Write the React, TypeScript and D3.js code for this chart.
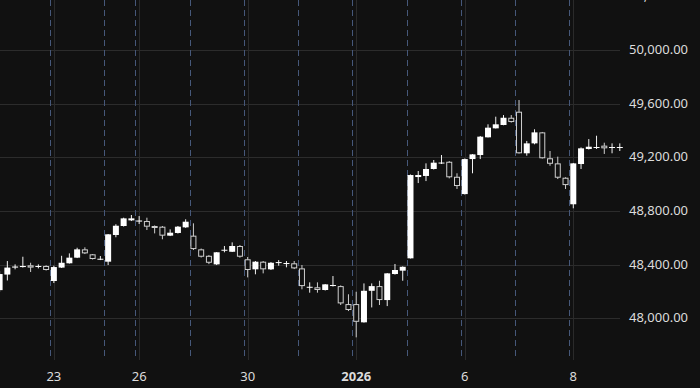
import React from "react";
import * as d3 from "d3";

// trading days shown, hourly bars per day
const days = ["22", "23", "24", "26", "29", "30", "31", "2026", "5", "6", "7", "8"];
const barsPerDay = [7, 7, 4, 7, 7, 7, 7, 7, 7, 7, 7, 7];
const labeledDays = ["23", "26", "30", "2026", "6", "8"];
const priceTicks = [48000, 48400, 48800, 49200, 49600, 50000, 50400];

const opens = [
  48210, 48326, 48378, 48382, 48395, 48386, 48390,
  48278, 48378, 48410, 48452, 48514, 48477, 48440,
  48422, 48621, 48688, 48730,
  48721, 48725, 48688, 48683, 48616, 48636, 48678,
  48616, 48514, 48466, 48402, 48507, 48496, 48539,
  48440, 48365, 48422, 48365, 48414, 48407, 48410,
  48372, 48231, 48231, 48211, 48245, 48240, 48106,
  48106, 47970, 48205, 48240, 48136, 48330, 48355,
  48447, 49053, 49061, 49113, 49154, 49167, 49055,
  48926, 49187, 49217, 49349, 49416, 49441, 49495,
  49540, 49230, 49304, 49386, 49193, 49155, 49048,
  48850, 49150, 49262, 49272, 49287, 49273, 49273,
];
const highs = [
  48352, 48427, 48402, 48459, 48414, 48402, 48395,
  48392, 48466, 48484, 48526, 48529, 48479, 48464,
  48628, 48701, 48750, 48770,
  48762, 48750, 48692, 48688, 48663, 48688, 48738,
  48708, 48520, 48471, 48494, 48539, 48566, 48546,
  48457, 48427, 48427, 48419, 48434, 48427, 48427,
  48397, 48268, 48268, 48255, 48315, 48245, 48179,
  48198, 48260, 48260, 48280, 48337, 48405, 48387,
  49072, 49098, 49155, 49180, 49217, 49172, 49081,
  49191, 49224, 49359, 49446, 49503, 49515, 49515,
  49627, 49322, 49409, 49389, 49247, 49205, 49051,
  49158, 49274, 49336, 49361, 49309, 49304, 49304,
];
const lows = [
  48196, 48282, 48365, 48378, 48345, 48372, 48356,
  48263, 48375, 48408, 48449, 48479, 48438, 48434,
  48397, 48604, 48684, 48725,
  48703, 48658, 48633, 48589, 48613, 48632, 48674,
  48509, 48453, 48404, 48397, 48492, 48494, 48452,
  48305, 48328, 48335, 48360, 48392, 48380, 48367,
  48216, 48191, 48191, 48207, 48237, 48099, 48054,
  47858, 47968, 48081, 48099, 48091, 48326, 48280,
  48446, 49008, 49023, 49109, 49150, 49043, 48964,
  48923, 49081, 49187, 49348, 49415, 49439, 49459,
  49228, 49212, 49297, 49191, 49137, 49038, 48964,
  48820, 49113, 49258, 49262, 49225, 49230, 49247,
];
const closes = [
  48330, 48378, 48386, 48390, 48378, 48390, 48360,
  48382, 48414, 48452, 48514, 48484, 48442, 48444,
  48626, 48690, 48745, 48745,
  48729, 48683, 48680, 48616, 48638, 48683, 48720,
  48516, 48459, 48414, 48492, 48511, 48539, 48459,
  48360, 48422, 48365, 48414, 48419, 48412, 48372,
  48240, 48235, 48211, 48253, 48248, 48111, 48062,
  47974, 48205, 48240, 48136, 48335, 48360, 48384,
  49068, 49068, 49113, 49160, 49161, 49051, 48986,
  49187, 49222, 49354, 49421, 49446, 49495, 49463,
  49230, 49304, 49386, 49193, 49152, 49048, 48993,
  49155, 49267, 49279, 49277, 49267, 49277, 49277,
];

export default function App() {
  const width = 700, height = 388;
  const plotRight = 620, plotBottom = 360;
  const n = opens.length;

  const x = d3.scaleLinear().domain([0, n - 1]).range([-0.4, 619.8]);
  const y = d3.scaleLinear().domain([48000, 50000]).range([318.3, 50]);

  // index of first bar of each day (plain array, cumsum gives a Float64Array)
  const dayStart: number[] = Array.from(d3.cumsum([0, ...barsPerDay])).slice(0, days.length);

  const bodyW = 6;
  const font = "'Noto Sans', Roboto, sans-serif";

  return (
    <div>
      <style>{`body{margin:0;background:#111111}`}</style>
      <svg width={width} height={height} style={{ display: "block", background: "#111111" }}>
        <defs>
          <clipPath id="plot">
            <rect x={0} y={0} width={plotRight + 3} height={plotBottom} />
          </clipPath>
        </defs>

        {/* horizontal grid */}
        {priceTicks.map(p => (
          <line key={p} x1={0} x2={plotRight} y1={Math.round(y(p)) + 0.5} y2={Math.round(y(p)) + 0.5}
            stroke="#2c2c2c" strokeWidth={1} />
        ))}

        {/* vertical grid at labeled days */}
        {days.map((d, k) => labeledDays.includes(d) ? (
          <line key={"g" + d} x1={Math.round(x(dayStart[k])) + 0.5} x2={Math.round(x(dayStart[k])) + 0.5}
            y1={0} y2={plotBottom} stroke="#2a2a2a" strokeWidth={1} />
        ) : null)}

        {/* session breaks */}
        {dayStart.slice(1).map(s => (
          <line key={"s" + s} x1={Math.round(x(s - 0.5)) + 0.5} x2={Math.round(x(s - 0.5)) + 0.5}
            y1={0} y2={plotBottom} stroke="#46587a" strokeWidth={1} strokeDasharray="6,4" />
        ))}

        <g clipPath="url(#plot)">
          {opens.map((o, i) => {
            const c = closes[i];
            const cx = x(i);
            const up = c >= o;
            const top = y(Math.max(o, c)), bot = y(Math.min(o, c));
            const h = Math.max(1, bot - top);
            return (
              <g key={i}>
                <line x1={cx} x2={cx} y1={y(highs[i])} y2={y(lows[i])} stroke={up ? "#f2f2f2" : "#cfcfcf"} strokeWidth={1} />
                {up ? (
                  <rect x={cx - bodyW / 2} y={top} width={bodyW} height={h} fill="#ffffff" />
                ) : (
                  <rect x={cx - bodyW / 2 + 0.5} y={top + 0.5} width={bodyW - 1} height={Math.max(1, h - 1)}
                    fill="#111111" stroke="#cfcfcf" strokeWidth={1} />
                )}
              </g>
            );
          })}
        </g>

        {/* price axis */}
        {priceTicks.map(p => (
          <text key={"t" + p} x={629} y={y(p)} dy="0.3em" fill="#dcdcdc" fontSize={13} fontFamily={font}>
            {d3.format(",.2f")(p)}
          </text>
        ))}

        {/* time axis */}
        {days.map((d, k) => labeledDays.includes(d) ? (
          <text key={"l" + d} x={x(dayStart[k])} y={376} dy="0.35em" textAnchor="middle" fill="#dcdcdc"
            fontSize={13} fontFamily={font} fontWeight={d === "2026" ? "bold" : "normal"}>
            {d}
          </text>
        ) : null)}
      </svg>
    </div>
  );
}
